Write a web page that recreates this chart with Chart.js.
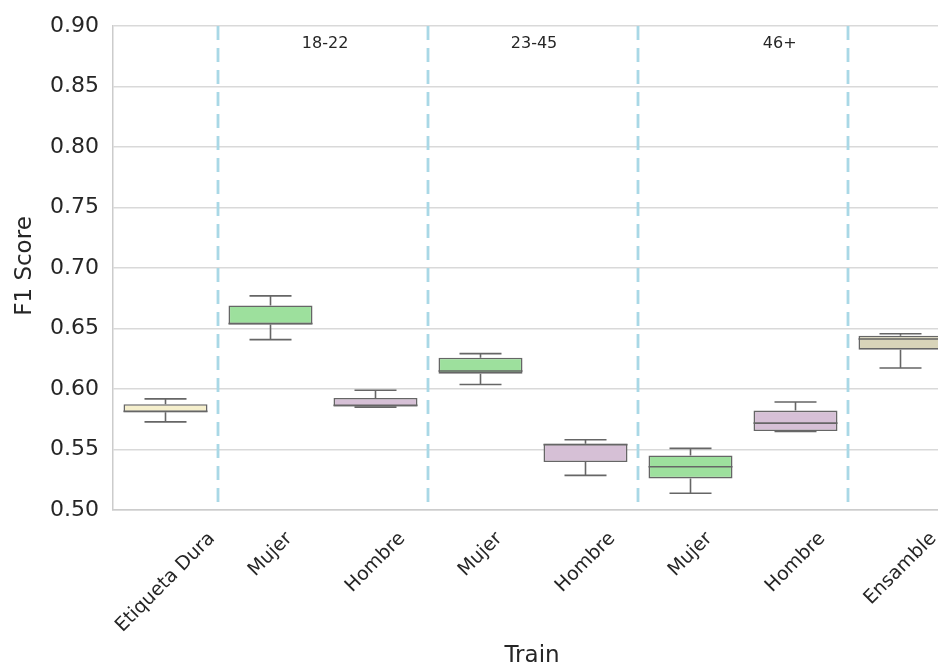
<!DOCTYPE html>
<html>
<head>
<meta charset="utf-8">
<script src="https://cdn.jsdelivr.net/npm/chart.js@4/dist/chart.umd.min.js"></script>
<style>
html,body{margin:0;padding:0;background:#fff;overflow:hidden;width:938px;height:670px;}
#wrap{position:absolute;left:0;top:0;width:960px;height:670px;}
</style>
</head>
<body>
<div id="wrap"><canvas id="c" width="960" height="670"></canvas></div>
<script>
const categories = ["Etiqueta Dura","Mujer","Hombre","Mujer","Hombre","Mujer","Hombre","Ensamble"];
const whiskerLow  = [0.5728, 0.6408, 0.5850, 0.6037, 0.5286, 0.5138, 0.5650, 0.6174];
const q1          = [0.5808, 0.6534, 0.5855, 0.6127, 0.5396, 0.5261, 0.5652, 0.6325];
const median      = [0.5815, 0.6540, 0.5865, 0.6149, 0.5540, 0.5357, 0.5718, 0.6413];
const q3          = [0.5874, 0.6690, 0.5926, 0.6259, 0.5548, 0.5451, 0.5822, 0.6440];
const whiskerHigh = [0.5918, 0.6770, 0.5990, 0.6292, 0.5580, 0.5509, 0.5893, 0.6457];
const boxColors   = ["#f5efcc","#9de09d","#d6c0d6","#9de09d","#d6c0d6","#9de09d","#d6c0d6","#d8d4b9"];
const groupLabels = ["18-22","23-45","46+"];
const groupLabelPos = [1.52, 3.51, 5.85];
const separatorsAfter = [0, 2, 4, 6];
const yTicks = [0.50,0.55,0.60,0.65,0.70,0.75,0.80,0.85,0.90];

const FONT = "'DejaVu Sans', sans-serif";
const LINE = "#666666";
const TEXT = "#262626";

const boxPlugin = {
  id: 'boxExtras',
  beforeDatasetsDraw(chart){
    const {ctx, chartArea, scales:{x}} = chart;
    ctx.save();
    ctx.strokeStyle = "#a9d8e6";
    ctx.lineWidth = 2.8;
    ctx.setLineDash([14,8]);
    separatorsAfter.forEach(i=>{
      const px = (x.getPixelForValue(i)+x.getPixelForValue(i+1))/2;
      ctx.beginPath();
      ctx.moveTo(px, chartArea.top);
      ctx.lineTo(px, chartArea.bottom);
      ctx.stroke();
    });
    ctx.restore();
  },
  afterDatasetsDraw(chart){
    const {ctx, chartArea, scales:{x,y}} = chart;
    const meta = chart.getDatasetMeta(0);
    ctx.save();
    ctx.strokeStyle = LINE;
    ctx.lineWidth = 1.6;
    meta.data.forEach((bar,i)=>{
      const cx = bar.x;
      const w = bar.width;
      const capHalf = w/4;
      const yl = y.getPixelForValue(whiskerLow[i]);
      const yq1 = y.getPixelForValue(q1[i]);
      const yq3 = y.getPixelForValue(q3[i]);
      const yh = y.getPixelForValue(whiskerHigh[i]);
      const ym = y.getPixelForValue(median[i]);
      ctx.beginPath();
      ctx.moveTo(cx, yq1); ctx.lineTo(cx, yl);
      ctx.moveTo(cx-capHalf, yl); ctx.lineTo(cx+capHalf, yl);
      ctx.moveTo(cx, yq3); ctx.lineTo(cx, yh);
      ctx.moveTo(cx-capHalf, yh); ctx.lineTo(cx+capHalf, yh);
      ctx.stroke();
      ctx.beginPath();
      ctx.moveTo(cx-w/2, ym); ctx.lineTo(cx+w/2, ym);
      ctx.stroke();
    });
    ctx.fillStyle = TEXT;
    ctx.font = "16px " + FONT;
    ctx.textAlign = "center";
    ctx.textBaseline = "middle";
    groupLabels.forEach((t,k)=>{
      const f = Math.floor(groupLabelPos[k]);
      const p0 = x.getPixelForValue(f);
      const p1 = x.getPixelForValue(f+1);
      const px = p0 + (p1-p0)*(groupLabelPos[k]-f);
      ctx.fillText(t, px, chartArea.top + 18);
    });
    const fs = 19;
    ctx.font = fs + "px " + FONT;
    categories.forEach((t,i)=>{
      const px = x.getPixelForValue(i);
      const tw = ctx.measureText(t).width;
      const bh = (tw + fs)*Math.SQRT1_2;
      ctx.save();
      ctx.translate(px, chartArea.bottom + 19 + bh/2);
      ctx.rotate(-Math.PI/4);
      ctx.textAlign = "center";
      ctx.textBaseline = "middle";
      ctx.fillText(t, 0, 0);
      ctx.restore();
    });
    ctx.font = "23px " + FONT;
    ctx.textAlign = "center";
    ctx.textBaseline = "middle";
    ctx.fillText("Train", 532, 656);
    ctx.save();
    ctx.translate(25, 266);
    ctx.rotate(-Math.PI/2);
    ctx.fillText("F1 Score", 0, 0);
    ctx.restore();
    ctx.restore();
  }
};

new Chart(document.getElementById('c'), {
  type: 'bar',
  data: {
    labels: categories,
    datasets: [{
      data: categories.map((_,i)=>[q1[i], q3[i]]),
      backgroundColor: boxColors,
      borderColor: LINE,
      borderWidth: 1.6,
      borderSkipped: false,
      barPercentage: 0.8,
      categoryPercentage: 1.0
    }]
  },
  options: {
    responsive: false,
    animation: false,
    devicePixelRatio: 1,
    layout: { padding: { left: 0, right: 7, top: 10, bottom: 0 } },
    plugins: { legend: { display: false }, tooltip: { enabled: false } },
    scales: {
      x: {
        type: 'category',
        offset: true,
        grid: { display: false },
        border: { display: true, color: "#cccccc", width: 1.5 },
        ticks: { display: false },
        afterFit(s){ s.height = 160; }
      },
      y: {
        min: 0.5, max: 0.9,
        afterBuildTicks(s){ s.ticks = yTicks.map(v=>({value:v})); },
        ticks: {
          color: TEXT,
          font: { family: FONT, size: 22, lineHeight: 1.09 },
          padding: 14,
          callback: v => Number(v).toFixed(2)
        },
        grid: { color: "#d9d9d9", lineWidth: 1.5, drawTicks: false },
        border: { display: true, color: "#cccccc", width: 1.5 },
        title: { display: false },
        afterFit(s){ s.width = 113; }
      }
    }
  },
  plugins: [boxPlugin]
});
</script>
</body>
</html>
